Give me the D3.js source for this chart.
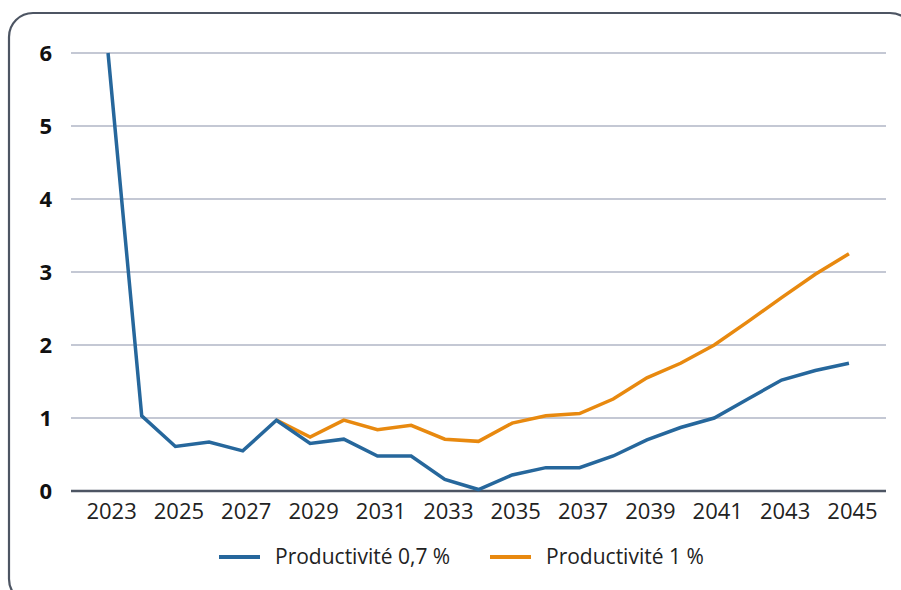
<!DOCTYPE html>
<html>
<head>
<meta charset="utf-8">
<script src="https://cdn.jsdelivr.net/npm/d3@7"></script>
<style>
  body { margin: 0; background: #fff; }
  svg { display: block; font-family: "Open Sans", "Noto Sans", sans-serif; }
</style>
</head>
<body>
<div class="line-chart"></div>
<script>
const years = d3.range(2023, 2046);
const prod07 = [6.0, 1.03, 0.61, 0.67, 0.55, 0.97, 0.65, 0.71, 0.48, 0.48, 0.16, 0.02,
  0.22, 0.32, 0.32, 0.48, 0.70, 0.87, 1.0, 1.26, 1.52, 1.65, 1.75];
// second scenario only starts in 2028
const prod1 = [null, null, null, null, null, 0.97, 0.74, 0.97, 0.84, 0.90, 0.71, 0.68,
  0.93, 1.03, 1.06, 1.26, 1.55, 1.75, 2.0, 2.32, 2.65, 2.97, 3.25];
const yTicks = [0, 1, 2, 3, 4, 5, 6];
const seriesNames = ["Productivité 0,7 %", "Productivité 1 %"];
const colors = ["#26679c", "#e8890f"];

const width = 901, height = 590;
const plot = { left: 71, right: 886, top: 53, bottom: 491 };

const svg = d3.select(".line-chart")
  .append("svg")
  .attr("width", width)
  .attr("height", height);

// rounded frame
svg.append("rect")
  .attr("x", 9).attr("y", 13)
  .attr("width", 905).attr("height", 590)
  .attr("rx", 24)
  .attr("fill", "none")
  .attr("stroke", "#4d5563")
  .attr("stroke-width", 2.2);

const x = d3.scalePoint()
  .domain(years)
  .range([plot.left, plot.right])
  .padding(1.1);

const y = d3.scaleLinear()
  .domain([0, 6])
  .range([plot.bottom, plot.top]);

// gridlines
svg.append("g")
  .selectAll("line")
  .data(yTicks.filter(d => d > 0))
  .enter()
  .append("line")
  .attr("x1", plot.left).attr("x2", plot.right)
  .attr("y1", d => y(d)).attr("y2", d => y(d))
  .attr("stroke", "#b1b6c6")
  .attr("stroke-width", 1.5);

// y axis labels
svg.append("g")
  .attr("transform", `translate(${plot.left - 19},0)`)
  .call(d3.axisLeft(y).tickValues(yTicks).tickSize(0).tickPadding(0).tickFormat(d3.format("d")))
  .call(g => g.select(".domain").remove())
  .selectAll("text")
  .attr("font-size", 22)
  .attr("font-weight", "bold")
  .attr("fill", "#111")
  .attr("font-family", "'Open Sans', sans-serif");

// x axis
const xAxis = svg.append("g")
  .attr("transform", `translate(0,${plot.bottom})`)
  .call(d3.axisBottom(x)
    .tickValues(years.filter(d => d % 2 === 1))
    .tickSize(0).tickPadding(12)
    .tickFormat(d3.format("d")));
xAxis.select(".domain").remove();
xAxis.selectAll("text")
  .attr("font-size", 22)
  .attr("fill", "#222")
  .attr("font-family", "'Open Sans', sans-serif")
  .attr("dx", 3);

svg.append("line")
  .attr("x1", plot.left).attr("x2", plot.right)
  .attr("y1", y(0)).attr("y2", y(0))
  .attr("stroke", "#4d5563")
  .attr("stroke-width", 2.5);

const line = d3.line()
  .defined(d => d.v != null)
  .x(d => x(d.year))
  .y(d => y(d.v));

[prod1, prod07].forEach((vals, i) => {
  const idx = i === 0 ? 1 : 0;
  svg.append("path")
    .datum(years.map((yr, j) => ({ year: yr, v: vals[j] })))
    .attr("fill", "none")
    .attr("stroke", colors[idx])
    .attr("stroke-width", 3.5)
    .attr("stroke-linejoin", "miter")
    .attr("d", line);
});

// legend
const legendX = [219, 490];
const legend = svg.append("g")
  .selectAll("g")
  .data(seriesNames)
  .enter()
  .append("g")
  .attr("transform", (d, i) => `translate(${legendX[i]},557)`);

legend.append("line")
  .attr("x1", 0).attr("x2", 41)
  .attr("stroke", (d, i) => colors[i])
  .attr("stroke-width", 4);

legend.append("text")
  .attr("x", 56)
  .attr("dy", "0.35em")
  .attr("font-size", 21)
  .attr("fill", "#222")
  .text(d => d);
</script>
</body>
</html>
